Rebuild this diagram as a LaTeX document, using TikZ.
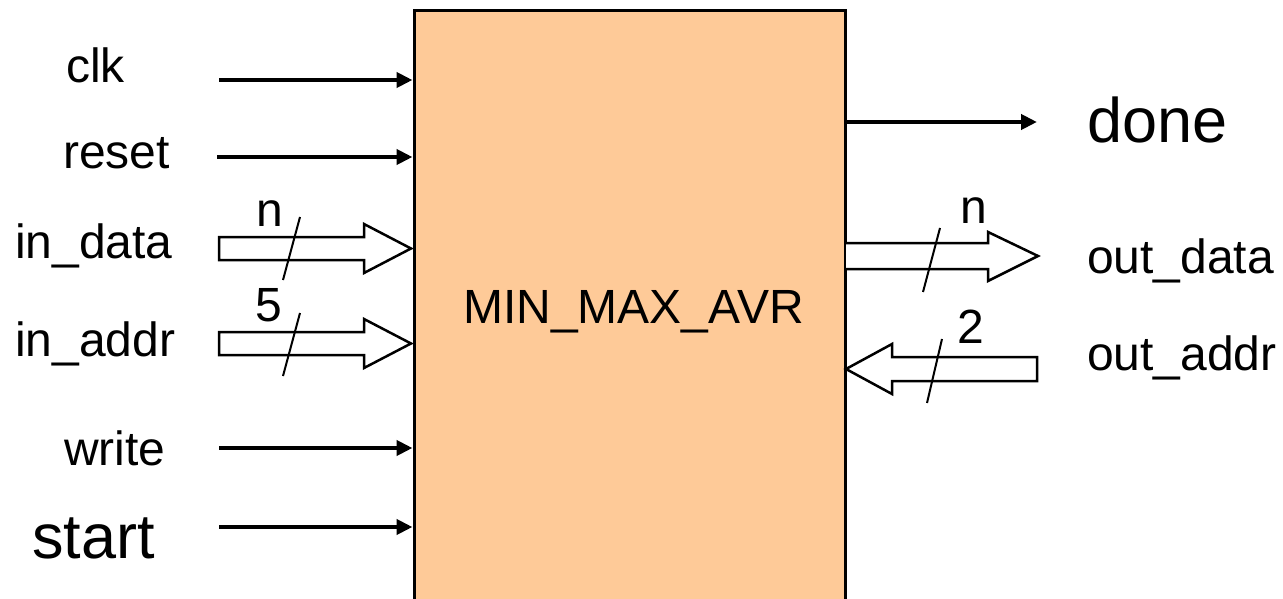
\documentclass[tikz,border=0pt]{standalone}
\usepackage{fontspec}
\setmainfont{Liberation Sans}
\usetikzlibrary{arrows.meta}
\definecolor{peach}{RGB}{254,202,152}
\begin{document}
\begin{tikzpicture}[x=1pt,y=-1pt,
  sig/.style={line width=4.5pt,-{Triangle[length=16pt,width=15pt]}},
  bus/.style={line width=2.5pt,fill=white,line join=miter},
  slash/.style={line width=2pt},
  lbl/.style={inner sep=0pt,anchor=base west,font=\fontsize{48}{50}\selectfont},
  biglbl/.style={inner sep=0pt,anchor=base west,font=\fontsize{63}{66}\selectfont}]
\useasboundingbox (0,0) rectangle (1283,599);
\node[draw,line width=3pt,fill=peach,minimum width=431pt,minimum height=640pt,
      anchor=north west,inner sep=0pt] (box) at (412.5,9) {};
\node[lbl] (title) at (463,323) {MIN\_MAX\_AVR};
% left labels
\node[lbl] (lclk) at (66,83) {clk};
\node[lbl] (lreset) at (63,169) {reset};
\node[lbl] (lindata) at (15,258) {in\_data};
\node[lbl] (linaddr) at (15,356) {in\_addr};
\node[lbl] (lwrite) at (64,465) {write};
\node[biglbl] (lstart) at (32,558) {start};
% right labels
\node[biglbl] (ldone) at (1087,143) {done};
\node[lbl] (loutdata) at (1087,273) {out\_data};
\node[lbl] (loutaddr) at (1087,370) {out\_addr};
% width labels
\node[lbl] (wn1) at (256,226) {n};
\node[lbl] (w5) at (255,321) {5};
\node[lbl] (wn2) at (960,223) {n};
\node[lbl] (w2) at (957,343) {2};
% single-bit signals
\coordinate (sclk) at (219,80);
\coordinate (sreset) at (217,157);
\coordinate (swrite) at (219,448);
\coordinate (sstart) at (219,527);
\coordinate (edone) at (1037,122);
\draw[sig] (sclk) -- (sclk -| box.west);
\draw[sig] (sreset) -- (sreset -| box.west);
\draw[sig] (swrite) -- (swrite -| box.west);
\draw[sig] (sstart) -- (sstart -| box.west);
\draw[sig] (edone -| box.east) -- (edone);
% buses
\coordinate (tindata) at (411,248.5);
\coordinate (tinaddr) at (411,343.5);
\coordinate (soutdata) at (846,256);
\coordinate (toutaddr) at (846,369);
\draw[bus] (219,237) -- (364,237) -- (364,224) -- (tindata) -- (364,273) -- (364,260) -- (219,260) -- cycle;
\draw[bus] (219,332) -- (364,332) -- (364,319) -- (tinaddr) -- (364,368) -- (364,355) -- (219,355) -- cycle;
\draw[bus] (soutdata |- 0,243) -- (988,243) -- (988,232) -- (1038,256) -- (988,281) -- (988,269) -- (soutdata |- 0,269);
\draw[bus] (toutaddr) -- (892,344) -- (892,357) -- (1037,357) -- (1037,381) -- (892,381) -- (892,394) -- cycle;
% slashes
\draw[slash] (300,217) -- (283,280);
\draw[slash] (300,313) -- (283,376);
\draw[slash] (940,228) -- (923,292);
\draw[slash] (942,339) -- (927,403);
\end{tikzpicture}
\end{document}
